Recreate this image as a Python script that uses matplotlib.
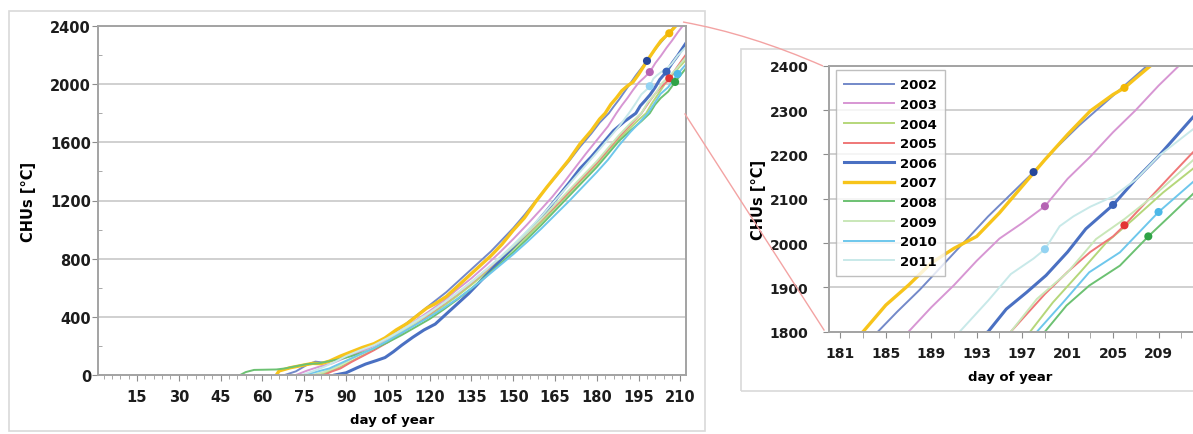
import numpy as np
import matplotlib
matplotlib.use("Agg")
import matplotlib.pyplot as plt
from matplotlib.patches import Rectangle, PathPatch
from matplotlib.path import Path
from matplotlib.lines import Line2D

plt.rcParams['font.family'] = ['DejaVu Sans']

################################################################################
# data (day of year, cumulative CHUs)

years = ["2002", "2003", "2004", "2005", "2006", "2007", "2008", "2009", "2010", "2011"]
colors = ["#7389c9", "#d796d3", "#b5d77a", "#ef7777", "#4a70c2", "#f7c41a",
          "#6cc172", "#c9e7b8", "#6ec7ec", "#c8e9e9"]
widths = [1.4, 1.4, 1.4, 1.4, 2.2, 2.4, 1.4, 1.4, 1.4, 1.4]

day_2002 = [68, 72, 76, 79, 82, 86, 90, 94, 98, 102, 106, 110, 114, 118, 122, 126, 130, 134, 138, 142,
            146, 150, 154, 158, 162, 166, 170, 174, 178, 181, 184.3, 186, 188, 190, 192, 194, 196, 198,
            200, 202, 204, 206, 208, 210]
chu_2002 = [0, 25, 70, 92, 85, 105, 135, 165, 185, 225, 275, 330, 390, 450, 510, 570, 640, 710, 780, 850,
            930, 1010, 1100, 1195, 1290, 1380, 1470, 1570, 1660, 1735, 1800, 1845, 1895, 1950, 2005, 2060,
            2110, 2160, 2215, 2265, 2310, 2355, 2400, 2440]

day_2003 = [72, 76, 80, 85, 90, 95, 100, 105, 110, 115, 120, 125, 130, 135, 140, 145, 150, 155, 160, 164,
            168, 172, 176, 180, 184, 187, 189, 191, 193, 195, 197, 199, 201, 203, 205, 207, 209, 211, 213]
chu_2003 = [0, 30, 55, 80, 120, 160, 200, 250, 310, 375, 440, 510, 590, 665, 750, 840, 935, 1035, 1140, 1225,
            1320, 1420, 1520, 1615, 1710, 1800, 1855, 1905, 1960, 2010, 2045, 2083, 2145, 2195, 2250, 2300,
            2355, 2405, 2450]

day_2004 = [80, 84, 88, 92, 96, 100, 105, 110, 115, 120, 125, 130, 135, 140, 145, 150, 155, 160, 165, 170,
            175, 180, 184, 188, 192, 195, 197.7, 199.7, 202.1, 204.4, 206.8, 209.4, 212, 213]
chu_2004 = [0, 25, 55, 95, 135, 175, 230, 290, 350, 410, 475, 545, 620, 700, 780, 865, 955, 1050, 1150, 1250,
            1350, 1450, 1540, 1625, 1700, 1755, 1800, 1866, 1934, 2001, 2054, 2114, 2167, 2190]

day_2005 = [82, 85, 88, 92, 96, 100, 105, 110, 115, 120, 125, 130, 135, 140, 145, 150, 155, 160, 165, 170,
            175, 180, 184, 188, 192, 196, 199, 201, 203, 205, 206, 208, 210, 212, 213]
chu_2005 = [0, 25, 45, 90, 130, 170, 225, 290, 355, 420, 490, 560, 635, 715, 795, 880, 970, 1065, 1160, 1260,
            1360, 1460, 1550, 1640, 1720, 1800, 1885, 1935, 1980, 2015, 2040, 2095, 2150, 2204, 2230]

day_2006 = [86, 90, 94, 97, 101, 104, 107, 110, 114, 118, 122, 126, 130, 134, 138, 142, 146, 150, 154, 158,
            162, 166, 170, 174, 178, 182, 186, 190, 194, 195.6, 197.4, 199.1, 201, 202.6, 205, 207, 209,
            212, 213]
chu_2006 = [0, 15, 50, 75, 100, 120, 160, 205, 260, 310, 350, 420, 490, 560, 640, 720, 800, 880, 960, 1040,
            1130, 1225, 1320, 1420, 1500, 1590, 1680, 1745, 1800, 1851, 1889, 1927, 1980, 2032, 2086, 2144,
            2196, 2283, 2310]

day_2007 = [65, 66, 70, 74, 78, 81, 84, 88, 92, 96, 100, 104, 108, 112, 115, 119, 122, 126, 130, 134, 138,
            142, 146, 150, 154, 158, 162, 166, 170, 174, 178, 181, 183, 185, 187, 189, 191, 193, 195, 197,
            199, 201, 203, 205, 206, 207, 208.3, 210]
chu_2007 = [0, 28, 50, 65, 80, 78, 95, 130, 160, 190, 215, 255, 310, 355, 400, 460, 490, 540, 610, 680, 750,
            820, 900, 995, 1080, 1190, 1290, 1385, 1480, 1590, 1680, 1760, 1800, 1860, 1905, 1955, 1988,
            2015, 2068, 2128, 2188, 2245, 2298, 2335, 2350, 2372, 2400, 2445]

day_2008 = [52, 54, 57, 65, 68, 72, 76, 80, 84, 88, 92, 96, 100, 105, 110, 115, 120, 125, 130, 135, 140,
            145, 150, 155, 160, 165, 170, 175, 180, 184, 188, 192, 196, 199, 200.9, 202.9, 205.6, 208.1,
            210, 212, 213]
chu_2008 = [0, 20, 35, 38, 45, 60, 75, 80, 95, 110, 130, 155, 180, 225, 275, 330, 385, 450, 520, 595, 675,
            760, 845, 935, 1030, 1130, 1230, 1330, 1430, 1520, 1610, 1680, 1745, 1800, 1859, 1904, 1949,
            2015, 2061, 2110, 2135]

day_2009 = [78, 82, 86, 90, 95, 100, 105, 110, 115, 120, 125, 130, 135, 140, 145, 150, 155, 160, 165, 170,
            175, 180, 184, 188, 192, 196, 198.3, 201, 203.5, 206, 208.6, 212, 213]
chu_2009 = [0, 20, 50, 90, 140, 185, 240, 300, 360, 425, 495, 565, 640, 720, 800, 885, 975, 1070, 1170, 1270,
            1370, 1470, 1560, 1650, 1730, 1800, 1874, 1934, 2009, 2054, 2107, 2186, 2210]

day_2010 = [75, 79, 84, 88, 92, 96, 100, 105, 110, 115, 120, 125, 130, 135, 140, 145, 150, 155, 160, 165,
            170, 175, 180, 184, 188, 192, 195, 198.3, 200.6, 202.9, 205.6, 209, 212, 213]
chu_2010 = [0, 20, 45, 80, 115, 150, 185, 235, 290, 345, 400, 460, 525, 595, 670, 750, 830, 915, 1005, 1100,
            1195, 1295, 1395, 1480, 1580, 1670, 1730, 1800, 1866, 1934, 1979, 2070, 2137, 2160]

day_2011 = [74, 78, 82, 86, 90, 95, 100, 105, 110, 115, 120, 125, 130, 135, 140, 145, 150, 155, 160, 165,
            170, 175, 180, 184, 188, 191.5, 194, 196, 198, 199, 200.3, 201.5, 203, 205, 207, 209, 212, 213]
chu_2011 = [0, 25, 55, 90, 130, 170, 205, 255, 310, 370, 430, 495, 565, 640, 720, 805, 895, 990, 1090, 1200,
            1310, 1420, 1530, 1620, 1710, 1800, 1870, 1930, 1965, 1986, 2038, 2060, 2082, 2105, 2143, 2196,
            2256, 2275]

days = [day_2002, day_2003, day_2004, day_2005, day_2006, day_2007, day_2008, day_2009, day_2010, day_2011]
chus = [chu_2002, chu_2003, chu_2004, chu_2005, chu_2006, chu_2007, chu_2008, chu_2009, chu_2010, chu_2011]

# dots on the curves
mark_days = [198, 199, 199, 205, 206, 206, 208.1, 209]
mark_chus = [2160, 2083, 1986, 2086, 2350, 2040, 2015, 2070]
mark_colors = ["#27479a", "#b562b3", "#93d3f2", "#3a62b8", "#f2b705", "#e33535", "#2fa346", "#4cb8e8"]

left_xticks = list(range(15, 211, 15))
right_xticks = list(range(181, 212, 4))

################################################################################

W, H = 1193, 435
fig = plt.figure(figsize=(W / 100, H / 100), dpi=100)
fig.patch.set_facecolor("white")

def fx(px):
    return px / W

def fy(py):
    return 1 - py / H

# outer boxes
fig.patches.append(Rectangle((fx(9), fy(432)), fx(696), 420 / H, transform=fig.transFigure,
                             fill=False, edgecolor="#d9d9d9", lw=1.2))
fig.patches.append(Rectangle((fx(741), fy(392)), fx(500), 342 / H, transform=fig.transFigure,
                             fill=False, edgecolor="#d9d9d9", lw=1.2))

ax1 = fig.add_axes([fx(98), fy(376), fx(588), 349 / H])
ax2 = fig.add_axes([fx(829), fy(332.7), fx(375), 266 / H])

tick_col = "#1c1c1c"
spine_col = "#a3a3a3"

for ax in (ax1, ax2):
    for i in range(len(years)):
        ax.plot(days[i], chus[i], color=colors[i], lw=widths[i], label=years[i],
                solid_joinstyle="round")
    ax.scatter(mark_days, mark_chus, s=34, c=mark_colors, zorder=5, linewidths=0)
    for s in ax.spines.values():
        s.set_color(spine_col)
        s.set_linewidth(1.4)
    ax.set_axisbelow(True)
    ax.yaxis.grid(True, color="#cdcdcd", lw=1.3)
    ax.tick_params(colors="#8c8c8c", labelcolor=tick_col)
    ax.tick_params(which="minor", colors="#9a9a9a")

# left chart
ax1.set_xlim(1, 212)
ax1.set_ylim(0, 2400)
ax1.set_xticks(left_xticks)
ax1.set_xticks(range(3, 212, 3), minor=True)
ax1.set_yticks(range(0, 2401, 400))
ax1.set_yticks(range(200, 2400, 400), minor=True)
ax1.tick_params(axis="x", which="major", length=4, pad=6)
ax1.tick_params(axis="x", which="minor", length=3)
ax1.tick_params(axis="y", which="major", length=4, pad=1)
ax1.tick_params(axis="y", which="minor", length=3, direction="in")
for t in ax1.get_xticklabels() + ax1.get_yticklabels():
    t.set_fontsize(10.5)
    t.set_fontweight("bold")
ax1.set_xlabel("day of year", fontsize=9.5, fontweight="bold")
ax1.xaxis.set_label_coords(0.5, -0.108)
ax1.set_ylabel("CHUs [°C]", fontsize=10.5, fontweight="bold")
ax1.yaxis.set_label_coords(-0.105, 0.5)

# zoomed chart
ax2.set_xlim(180, 213)
ax2.set_ylim(1800, 2400)
ax2.set_xticks(right_xticks)
ax2.set_xticks(range(181, 213, 2), minor=True)
ax2.set_yticks(range(1800, 2401, 100))
ax2.tick_params(axis="x", which="both", length=4, pad=6)
ax2.tick_params(axis="y", length=4, pad=11)
for t in ax2.get_xticklabels() + ax2.get_yticklabels():
    t.set_fontsize(10)
    t.set_fontweight("bold")
ax2.spines["right"].set_visible(False)
ax2.set_xlabel("day of year", fontsize=9.5, fontweight="bold")
ax2.xaxis.set_label_coords(0.483, -0.144)
ax2.set_ylabel("CHUs [°C]", fontsize=10.5, fontweight="bold")
ax2.yaxis.set_label_coords(-0.168, 0.5)

leg = ax2.legend(loc="upper left", bbox_to_anchor=(0.018, 0.982), borderaxespad=0,
                 prop={"size": 9.5, "weight": "bold"}, handlelength=3.8, labelspacing=0.5,
                 frameon=True, fancybox=False, borderpad=0.6, handletextpad=0.45)
leg.get_frame().set_edgecolor("#b0b0b0")
leg.get_frame().set_linewidth(1.0)

# pink connector lines between the two charts
pink = "#f3a3a3"
top = Path([(fx(683), fy(23)), (fx(750), fy(35)), (fx(823), fy(67))],
           [Path.MOVETO, Path.CURVE3, Path.CURVE3])
fig.patches.append(PathPatch(top, transform=fig.transFigure, fill=False, edgecolor=pink, lw=1.0))
fig.lines.append(Line2D([fx(685), fx(824)], [fy(115), fy(331)], transform=fig.transFigure,
                        color=pink, lw=1.0))

plt.savefig("out.png", dpi=100)
